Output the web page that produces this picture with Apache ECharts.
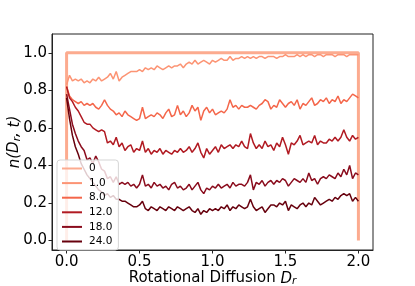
<!DOCTYPE html>
<html><head><meta charset="utf-8">
<script src="https://cdn.jsdelivr.net/npm/echarts@6/dist/echarts.min.js"></script>
<style>html,body{margin:0;padding:0;background:#fff}#c{width:415px;height:286px}</style>
</head><body><div id="c"></div>
<script>
const xs = [0,0.02,0.04,0.06,0.08,0.1,0.12,0.14,0.16,0.18,0.2,0.22,0.24,0.26,0.28,0.3,0.32,0.34,0.36,0.38,0.4,0.42,0.44,0.46,0.48,0.5,0.52,0.54,0.56,0.58,0.6,0.62,0.64,0.66,0.68,0.7,0.72,0.74,0.76,0.78,0.8,0.82,0.84,0.86,0.88,0.9,0.92,0.94,0.96,0.98,1.0,1.02,1.04,1.06,1.08,1.1,1.12,1.14,1.16,1.18,1.2,1.22,1.24,1.26,1.28,1.3,1.32,1.34,1.36,1.38,1.4,1.42,1.44,1.46,1.48,1.5,1.52,1.54,1.56,1.58,1.6,1.62,1.64,1.66,1.68,1.7,1.72,1.74,1.76,1.78,1.8,1.82,1.84,1.86,1.88,1.9,1.92,1.94,1.96,1.98,2.0];
const s0x = [0, 0, 2.0, 2.0];
const s0 = [0, 1, 1, 0];
const s1 = [0.83,0.88,0.85,0.86,0.85,0.86,0.84,0.85,0.84,0.86,0.85,
 0.87,0.85,0.86,0.87,0.89,0.86,0.90,0.85,0.87,0.88,
 0.89,0.90,0.90,0.90,0.91,0.90,0.92,0.91,0.92,0.91,
 0.93,0.92,0.91,0.92,0.93,0.92,0.93,0.93,0.94,0.92,
 0.94,0.95,0.94,0.96,0.94,0.95,0.96,0.95,0.94,0.96,
 0.95,0.96,0.97,0.96,0.96,0.98,0.96,0.97,0.97,0.98,
 0.97,0.98,0.97,0.98,0.97,0.98,0.98,0.97,0.98,0.98,
 0.98,0.97,0.98,0.98,0.99,0.98,0.98,0.98,0.99,0.98,
 0.99,0.98,0.99,0.99,0.98,0.99,0.99,0.98,0.99,0.99,
 0.99,0.98,0.99,0.99,0.99,0.98,0.99,0.99,0.99,0.99];
const s8 = [0.82,0.77,0.75,0.74,0.73,0.74,0.72,0.73,0.72,0.73,0.71,
 0.70,0.72,0.75,0.72,0.70,0.69,0.67,0.68,0.66,0.69,
 0.67,0.66,0.65,0.64,0.65,0.71,0.65,0.66,0.67,0.66,
 0.68,0.67,0.65,0.68,0.70,0.66,0.67,0.72,0.67,0.69,
 0.66,0.68,0.72,0.69,0.71,0.64,0.69,0.71,0.68,0.70,
 0.67,0.68,0.69,0.68,0.70,0.75,0.71,0.72,0.70,0.72,
 0.71,0.71,0.72,0.71,0.70,0.72,0.73,0.75,0.74,0.70,
 0.72,0.71,0.75,0.73,0.71,0.73,0.74,0.72,0.75,0.70,
 0.73,0.72,0.74,0.76,0.72,0.73,0.75,0.74,0.76,0.73,
 0.75,0.74,0.77,0.73,0.75,0.74,0.76,0.78,0.77,0.76];
const s12 = [0.82,0.76,0.74,0.71,0.69,0.66,0.63,0.62,0.62,0.60,0.59,
 0.58,0.59,0.58,0.52,0.53,0.51,0.55,0.50,0.52,0.48,
 0.50,0.51,0.47,0.49,0.48,0.53,0.47,0.49,0.46,0.48,
 0.47,0.49,0.46,0.48,0.47,0.46,0.48,0.47,0.49,0.47,
 0.48,0.50,0.47,0.49,0.52,0.47,0.44,0.49,0.46,0.48,
 0.50,0.47,0.51,0.49,0.50,0.51,0.49,0.51,0.50,0.53,
 0.50,0.49,0.57,0.52,0.49,0.51,0.49,0.53,0.50,0.51,
 0.48,0.52,0.50,0.55,0.51,0.46,0.52,0.51,0.53,0.56,
 0.51,0.52,0.53,0.52,0.56,0.51,0.53,0.52,0.52,0.54,
 0.53,0.55,0.53,0.55,0.59,0.55,0.53,0.56,0.54,0.55];
const s18 = [0.78,0.70,0.62,0.57,0.53,0.50,0.48,0.43,0.44,0.41,0.45,
 0.42,0.38,0.37,0.33,0.34,0.31,0.34,0.30,0.31,0.30,
 0.31,0.29,0.30,0.28,0.30,0.35,0.29,0.30,0.28,0.31,
 0.29,0.30,0.28,0.29,0.27,0.30,0.31,0.28,0.29,0.27,
 0.28,0.30,0.27,0.29,0.31,0.27,0.25,0.28,0.27,0.29,
 0.28,0.30,0.28,0.29,0.30,0.28,0.31,0.29,0.30,0.30,
 0.29,0.31,0.35,0.27,0.31,0.30,0.32,0.29,0.31,0.32,
 0.30,0.32,0.31,0.33,0.32,0.29,0.31,0.33,0.32,0.31,
 0.33,0.31,0.36,0.32,0.33,0.30,0.33,0.34,0.33,0.35,
 0.34,0.33,0.36,0.34,0.38,0.35,0.40,0.33,0.36,0.35];
const s24 = [0.76,0.65,0.56,0.50,0.46,0.41,0.38,0.35,0.33,0.31,0.29,
 0.27,0.26,0.24,0.25,0.23,0.24,0.22,0.22,0.21,0.21,
 0.20,0.19,0.18,0.18,0.19,0.21,0.17,0.16,0.18,0.17,
 0.16,0.18,0.17,0.16,0.18,0.17,0.16,0.18,0.17,0.16,
 0.17,0.18,0.16,0.15,0.17,0.14,0.16,0.15,0.17,0.16,
 0.17,0.16,0.18,0.17,0.19,0.16,0.18,0.17,0.19,0.18,
 0.17,0.18,0.22,0.18,0.16,0.17,0.18,0.15,0.17,0.19,
 0.19,0.18,0.20,0.19,0.21,0.16,0.19,0.18,0.17,0.19,
 0.20,0.18,0.20,0.19,0.23,0.21,0.19,0.20,0.21,0.22,
 0.21,0.23,0.22,0.24,0.25,0.24,0.25,0.21,0.23,0.21];
const seriesNames = ['0','1.0','8.0','12.0','18.0','24.0'];
const seriesX = [s0x, xs, xs, xs, xs, xs];
const seriesValues = [s0, s1, s8, s12, s18, s24];
const xTicks = [0, 0.5, 1.0, 1.5, 2.0];
const yTicks = [0, 0.2, 0.4, 0.6, 0.8, 1.0];

const colors = ['#fcab8f','#fc9474','#f4664a','#b11a22','#8a0b1c','#67000d'];
const widths = [3, 1.5, 1.5, 1.5, 1.5, 1.5];
const font = 'DejaVu Sans';
const nameRich = {
  i: {fontFamily: font, fontSize: 15, fontStyle: 'italic', color: '#000', lineHeight: 18, verticalAlign: 'bottom'},
  s: {fontFamily: font, fontSize: 10.5, fontStyle: 'italic', color: '#000', lineHeight: 12, verticalAlign: 'bottom'}
};

const chart = echarts.init(document.getElementById('c'), null, {renderer:'canvas'});
chart.setOption({
  animation: false,
  backgroundColor: '#fff',
  grid: {left: 52, top: 34, right: 42, bottom: 36, containLabel: false, outerBoundsMode: 'none',
    show: true, borderColor: '#222', borderWidth: 1, backgroundColor: 'transparent'},
  legend: {
    orient: 'vertical', left: 57, top: 160, z: 20,
    itemWidth: 20, itemHeight: 10, itemGap: 3.6,
    padding: [3, 6, 3, 4],
    backgroundColor: 'rgba(255,255,255,0.8)', borderColor: '#d5d5d5', borderWidth: 1, borderRadius: 3,
    itemStyle: {opacity: 0},
    textStyle: {fontFamily: font, fontSize: 10.5, color: '#000', padding: [0,0,0,2]},
    data: seriesNames
  },
  xAxis: {
    type: 'value', min: -0.1, max: 2.1,
    axisLine: {show: true, onZero: false, lineStyle: {color: '#222'}},
    axisTick: {show: true, customValues: xTicks, length: 3.5, lineStyle: {color: '#222'}},
    axisLabel: {customValues: xTicks, margin: 5, fontFamily: font, fontSize: 15, color: '#000', formatter: v => v.toFixed(1)},
    splitLine: {show: false},
    name: 'Rotational Diffusion {i|D}{s|r}', nameLocation: 'middle', nameGap: 19, nameMoveOverlap: false,
    nameTextStyle: {fontFamily: font, fontSize: 15, color: '#000', verticalAlign: 'top', lineHeight: 18, rich: nameRich}
  },
  yAxis: {
    type: 'value', min: -0.05, max: 1.1,
    axisLine: {show: true, onZero: false, lineStyle: {color: '#222'}},
    axisTick: {show: true, customValues: yTicks, length: 3.5, lineStyle: {color: '#222'}},
    axisLabel: {customValues: yTicks, margin: 5, fontFamily: font, fontSize: 15, color: '#000', formatter: v => v.toFixed(1)},
    splitLine: {show: false},
    name: '{i|n}(D{s|r}, {i|t})', nameLocation: 'middle', nameGap: 29, nameMoveOverlap: false,
    nameTextStyle: {fontFamily: font, fontSize: 15, color: '#000', fontStyle: 'italic', lineHeight: 18, rich: nameRich}
  },
  series: seriesNames.map((n, i) => ({
    name: n, type: 'line', symbol: 'none', showSymbol: false,
    data: seriesX[i].map((x, j) => [x, seriesValues[i][j]]),
    lineStyle: {width: widths[i], color: colors[i]},
    itemStyle: {color: colors[i]}
  }))
});
</script></body></html>
